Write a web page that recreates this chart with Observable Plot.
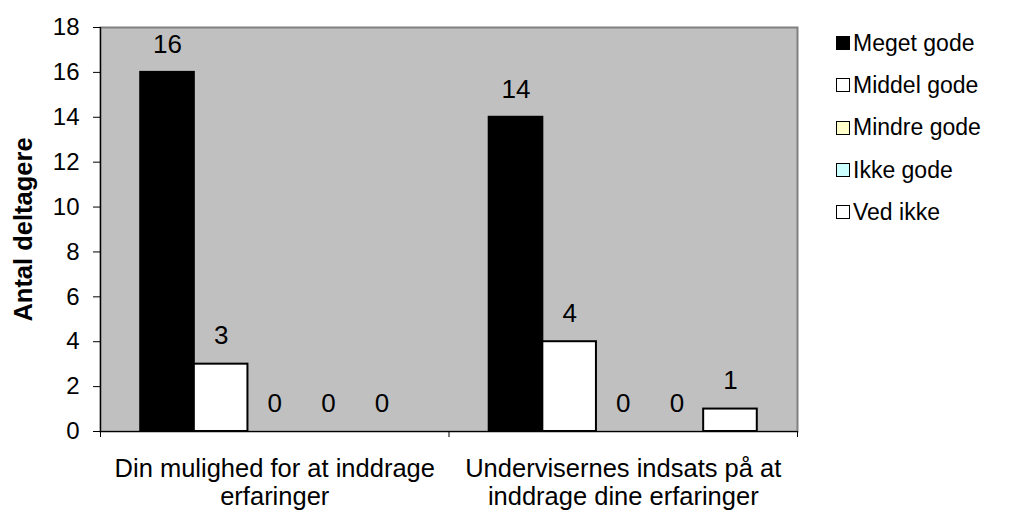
<!DOCTYPE html>
<html>
<head>
<meta charset="utf-8">
<script src="https://cdn.jsdelivr.net/npm/d3@7"></script>
<script src="https://cdn.jsdelivr.net/npm/@observablehq/plot@0.6"></script>
<style>
  html, body { margin: 0; padding: 0; background: #fff; }
  #wrap { position: relative; width: 1009px; height: 514px; font-family: "Liberation Sans", Arial, sans-serif; }
  #legend { position: absolute; left: 836px; top: 22px; font-size: 23px; color: #000; }
  #legend .row { height: 42.3px; display: flex; align-items: center; white-space: nowrap; }
  #legend .sw { width: 14px; height: 14px; box-sizing: border-box; border: 1.6px solid #000; margin-right: 3px; }
</style>
</head>
<body>
<div id="wrap"></div>
<script>
const categories = ["Din mulighed for at inddrage\nerfaringer", "Undervisernes indsats på at\ninddrage dine erfaringer"];
const series = ["Meget gode", "Middel gode", "Mindre gode", "Ikke gode", "Ved ikke"];
const valuesCategory1 = [16, 3, 0, 0, 0];
const valuesCategory2 = [14, 4, 0, 0, 1];
const seriesColors = ["#000000", "#ffffff", "#ffffcc", "#ccffff", "#ffffff"];
const yTicks = [0, 2, 4, 6, 8, 10, 12, 14, 16, 18];

// Excel-like clustered layout: each category slot = 5 bars + gap of 1.5 bar widths
const gap = 1.5;
const slot = series.length + gap;
const allValues = [valuesCategory1, valuesCategory2];
const rows = [];
allValues.forEach((vals, ci) => {
  vals.forEach((v, si) => {
    const x1 = ci * slot + gap / 2 + si;
    rows.push({category: categories[ci], series: series[si], value: v, x1, x2: x1 + 1, xm: x1 + 0.5});
  });
});
const boundaries = d3.range(categories.length + 1).map(i => i * slot);
const centers = d3.range(categories.length).map(i => i * slot + slot / 2);

const font = "'Liberation Sans', Arial, sans-serif";
const chart = Plot.plot({
  width: 1009,
  height: 514,
  marginLeft: 100,
  marginRight: 212,
  marginTop: 27,
  marginBottom: 83,
  style: {fontFamily: font, fontSize: "24px", background: "transparent", color: "#000"},
  x: {type: "linear", domain: [0, categories.length * slot], axis: null},
  y: {domain: [0, 18], axis: null},
  color: {domain: series, range: seriesColors},
  marks: [
    Plot.frame({fill: "#c0c0c0", stroke: "#808080", strokeWidth: 2}),
    Plot.rectY(rows.filter(d => d.value > 0), {x1: "x1", x2: "x2", y: "value", fill: "series", stroke: "#000", strokeWidth: 2}),
    Plot.text(rows, {x: "xm", y: "value", text: d => String(d.value), dy: -28, fontSize: 26, fill: "#000"}),
    Plot.ruleX([0], {stroke: "#000", strokeWidth: 1.2}),
    Plot.ruleY([0], {stroke: "#000", strokeWidth: 1.2}),
    Plot.axisY(yTicks, {anchor: "left", tickSize: 7, tickPadding: 14, fontSize: 24, label: null, stroke: "#000"}),
    Plot.axisX(boundaries, {anchor: "bottom", tickSize: 6, tickFormat: () => "", label: null, stroke: "#000"}),
    Plot.axisX(centers, {anchor: "bottom", tickSize: 0, tickPadding: 25, fontSize: 25.5, lineHeight: 1.12,
      tickFormat: (d, i) => categories[i], label: null}),
    Plot.text(["Antal deltagere"], {frameAnchor: "left", textAnchor: "middle", dx: -77, rotate: -90, fontSize: 25.5, fontWeight: "bold", fill: "#000"})
  ]
});
document.getElementById("wrap").appendChild(chart);

const legend = document.createElement("div");
legend.id = "legend";
series.forEach((s, i) => {
  const row = document.createElement("div");
  row.className = "row";
  const sw = document.createElement("span");
  sw.className = "sw";
  sw.style.background = seriesColors[i];
  const label = document.createElement("span");
  label.textContent = s;
  row.appendChild(sw);
  row.appendChild(label);
  legend.appendChild(row);
});
document.getElementById("wrap").appendChild(legend);
</script>
</body>
</html>
